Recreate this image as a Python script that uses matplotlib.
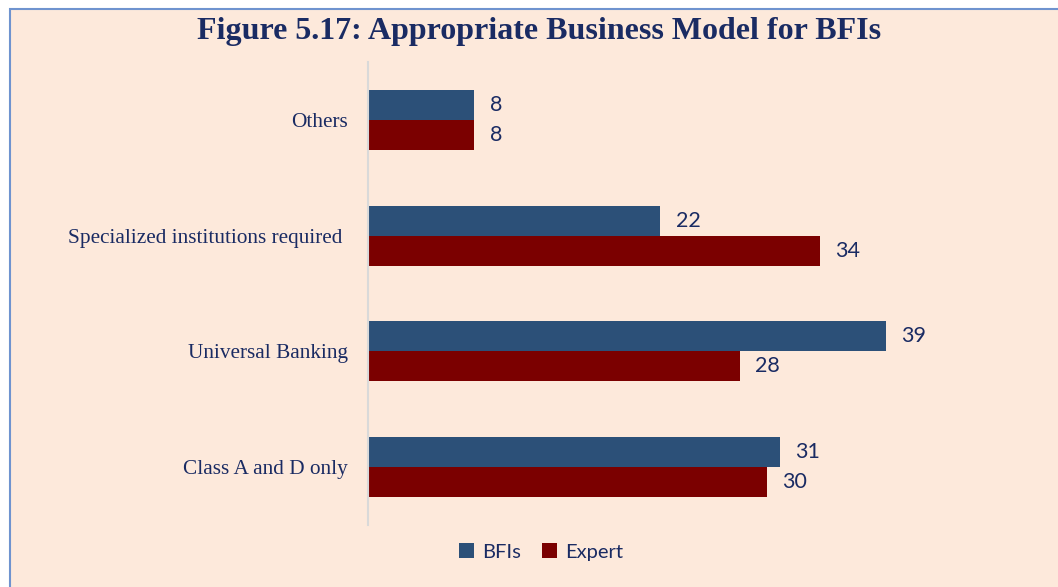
import matplotlib
matplotlib.use("Agg")
import matplotlib.pyplot as plt
import numpy as np
from matplotlib.patches import Rectangle, Patch

categories = ["Class A and D only", "Universal Banking", "Specialized institutions required ", "Others"]
bfis = [31, 39, 22, 8]
expert = [30, 28, 34, 8]
series_names = ["BFIs", "Expert"]
title = "Figure 5.17: Appropriate Business Model for BFIs"

W, H = 1058, 587
fig = plt.figure(figsize=(W / 100, H / 100), dpi=100)
fig.patch.set_facecolor("white")

bg = "#FDE9DB"
navy = "#1A2B63"
c_bfi = "#2C5078"
c_exp = "#7B0000"

# panel background with border
fig.patches.append(Rectangle((9.5 / W, -0.01), 1.1, 1 - 8.5 / H + 0.01, transform=fig.transFigure,
                             facecolor=bg, edgecolor="#6F93CF", linewidth=1.5, zorder=-5))

ax = fig.add_axes([368 / W, 1 - 525 / H, 671 / W, 463 / H])
ax.set_zorder(2)
ax.set_facecolor("none")

y = np.arange(len(categories))
h = 0.26
ax.barh(y + h / 2, bfis, height=h, color=c_bfi, label=series_names[0])
ax.barh(y - h / 2, expert, height=h, color=c_exp, label=series_names[1])

ax.set_xlim(0, 50.5)
ax.set_ylim(-0.5, 3.5)
for s in ["top", "right", "bottom"]:
    ax.spines[s].set_visible(False)
ax.spines["left"].set_color("#D9D9D9")
ax.spines["left"].set_linewidth(1.5)
ax.set_xticks([])
ax.set_yticks(y)
ax.set_yticklabels(categories, family="Liberation Serif", fontsize=15.3, color=navy)
ax.tick_params(axis="y", length=0, pad=14.5)

for yi, v in zip(y, bfis):
    ax.annotate(str(v), (v, yi + h / 2), xytext=(11, 0), textcoords="offset points",
                va="center", ha="left", fontsize=15.5, color=navy, family="Lato")
for yi, v in zip(y, expert):
    ax.annotate(str(v), (v, yi - h / 2), xytext=(11, 0), textcoords="offset points",
                va="center", ha="left", fontsize=15.5, color=navy, family="Lato")

fig.text(539 / W, 1 - 32 / H, title, ha="center", va="center", family="Liberation Serif",
         fontweight="bold", fontsize=23, color=navy)

handles = [Patch(facecolor=c_bfi), Patch(facecolor=c_exp)]
leg = fig.legend(handles, series_names, loc="center", bbox_to_anchor=(541 / W, 1 - 552 / H), ncol=2,
                 frameon=False, handlelength=0.75, handleheight=0.75, handletextpad=0.4,
                 columnspacing=1.0, prop={"family": "Lato", "size": 14.5})
for t in leg.get_texts():
    t.set_color(navy)

fig.savefig("out.png", dpi=100)
